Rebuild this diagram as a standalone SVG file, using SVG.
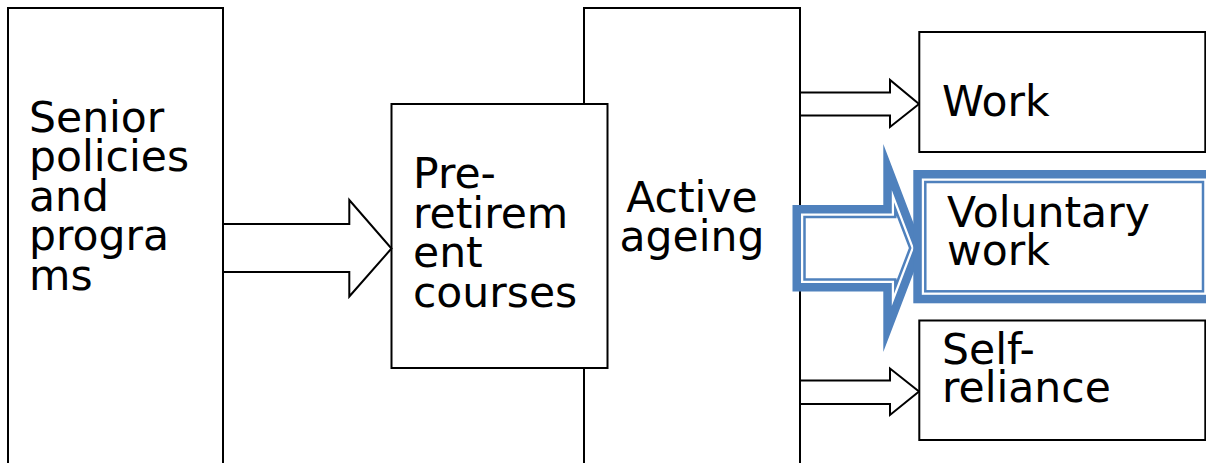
<svg xmlns="http://www.w3.org/2000/svg" width="1206" height="463" viewBox="0 0 1206 463">
<style>
.box{fill:#fff;stroke:#000;stroke-width:2}
.arr{fill:#fff;stroke:#000;stroke-width:2;stroke-linejoin:miter}
.t{font-family:"DejaVu Sans",Verdana,sans-serif;font-size:42.5px;fill:#000}
.bthick{fill:#fff;stroke:#4F81BD;stroke-width:8.5;stroke-linejoin:miter;stroke-miterlimit:12}
.bthin{fill:none;stroke:#4F81BD;stroke-width:2.5;stroke-linejoin:miter;stroke-miterlimit:12}
</style>
<rect width="1206" height="463" fill="#fff"/>
<g id="node-senior">
<rect class="box" x="8" y="8" width="215" height="500"/>
<text class="t" x="29"><tspan x="29" y="131.5">Senior</tspan><tspan x="29" y="171">policies</tspan><tspan x="29" y="210.5">and</tspan><tspan x="29" y="250">progra</tspan><tspan x="29" y="289.5">ms</tspan></text>
</g>
<g id="node-active">
<rect class="box" x="584" y="8" width="216" height="500"/>
<text class="t" text-anchor="middle"><tspan x="692" y="212">Active</tspan><tspan x="692" y="251">ageing</tspan></text>
</g>
<g id="node-preretirement">
<rect class="box" x="391.5" y="104" width="216" height="264"/>
<text class="t"><tspan x="413" y="188">Pre-</tspan><tspan x="413" y="227.5">retirem</tspan><tspan x="413" y="267">ent</tspan><tspan x="413" y="306.5">courses</tspan></text>
</g>
<g id="connectors">
<polygon class="arr" points="223,224 349.3,224 349.3,200 391.5,248.5 349.3,296.5 349.3,272 223,272"/>
<polygon class="arr" points="800,92.5 890,92.5 890,80 919,104 890,127 890,115.5 800,115.5"/>
<polygon class="arr" points="800,380.5 890,380.5 890,368.5 919,391.5 890,415 890,404 800,404"/>
<polygon class="bthick" points="796.75,209.25 887.55,209.25 887.55,167 918.45,248 887.55,329 887.55,287.25 796.75,287.25"/>
<polygon class="bthin" points="804.5,217 895.3,217 895.3,209 910.2,248 895.3,287 895.3,279.5 804.5,279.5"/>
</g>
<g id="node-work">
<rect class="box" x="919.3" y="32" width="286" height="120"/>
<text class="t" x="942" y="116">Work</text>
</g>
<g id="node-voluntary">
<rect class="bthick" x="917.55" y="174.25" width="293.2" height="124.8"/>
<rect class="bthin" x="925.3" y="182" width="277.7" height="109.3"/>
<text class="t"><tspan x="947" y="227">Voluntary</tspan><tspan x="947" y="264.5">work</tspan></text>
</g>
<g id="node-self">
<rect class="box" x="919.3" y="320.5" width="286" height="119.5"/>
<text class="t"><tspan x="942" y="363.5">Self-</tspan><tspan x="942" y="402">reliance</tspan></text>
</g>
</svg>
